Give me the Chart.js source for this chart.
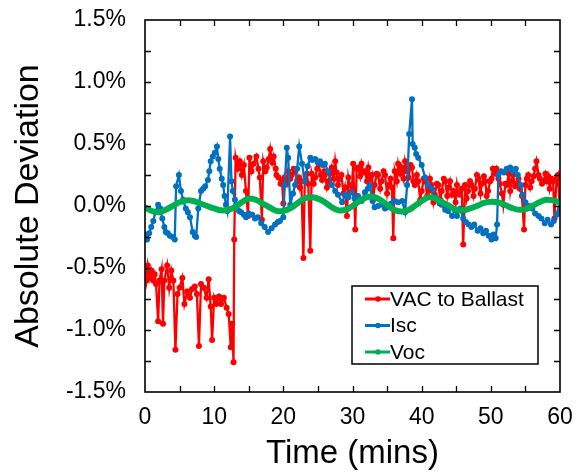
<!DOCTYPE html>
<html>
<head>
<meta charset="utf-8">
<script src="https://cdn.jsdelivr.net/npm/chart.js@4/dist/chart.umd.min.js"></script>
<style>
  html, body { margin: 0; padding: 0; background: #fff; }
  #wrap { width: 585px; height: 474px; position: relative; }
</style>
</head>
<body>
<div id="wrap"><canvas id="c" width="585" height="474"></canvas></div>
<script>
// ---- Data (percent deviation vs time in minutes) ----
const seriesNames = ["VAC to Ballast", "Isc", "Voc"];
const seriesColors = ["#FF0000", "#0070C0", "#00B050"];

const vacTime = [0.0,0.2,0.4,0.7,0.9,1.2,1.4,1.6,1.9,2.1,2.4,2.6,2.8,3.2,3.5,3.8,4.1,4.4,4.7,5.0,5.4,5.7,6.1,6.5,6.8,7.2,7.5,7.8,8.1,8.5,8.9,9.2,9.5,9.7,10.0,10.3,10.7,11.0,11.4,11.8,12.1,12.4,12.6,12.8,12.9,13.1,13.4,13.7,14.0,14.3,14.6,14.9,15.1,15.4,15.7,16.1,16.4,16.6,16.9,17.1,17.4,17.6,17.9,18.1,18.4,18.6,18.9,19.0,19.3,19.6,19.8,20.0,20.2,20.5,20.7,21.0,21.2,21.5,21.7,22.0,22.2,22.4,22.6,22.9,23.1,23.4,23.6,23.9,24.1,24.4,24.6,24.9,25.1,25.4,25.6,25.9,26.0,26.3,26.5,26.8,27.0,27.3,27.5,27.7,27.9,28.2,28.4,28.7,28.9,29.2,29.4,29.6,29.9,30.1,30.4,30.6,30.8,31.1,31.3,31.6,31.8,32.1,32.3,32.6,32.8,33.0,33.2,33.5,33.7,34.0,34.2,34.5,34.7,35.0,35.2,35.5,35.7,35.9,36.1,36.4,36.6,36.9,37.1,37.4,37.6,37.9,38.1,38.4,38.6,38.8,39.0,39.3,39.5,39.8,40.0,40.3,40.5,40.8,41.0,41.2,41.4,41.7,41.9,42.2,42.4,42.7,42.9,43.2,43.4,43.7,43.9,44.1,44.4,44.6,44.9,45.1,45.3,45.5,45.8,46.0,46.3,46.5,46.7,47.0,47.2,47.5,47.7,48.0,48.2,48.5,48.7,49.0,49.2,49.4,49.6,49.9,50.1,50.3,50.6,50.8,51.1,51.3,51.6,51.8,52.1,52.3,52.6,52.8,53.0,53.2,53.5,53.7,54.0,54.2,54.5,54.8,55.0,55.2,55.4,55.7,55.9,56.2,56.4,56.6,56.9,57.1,57.4,57.6,57.9,58.1,58.3,58.5,58.8,59.0,59.2,59.5,59.7,60.0];
const vacValues = [-0.52,-0.60,-0.48,-0.58,-0.52,-0.60,-0.55,-0.63,-0.93,-0.60,-0.51,-0.95,-0.60,-0.48,-0.66,-0.52,-0.60,-1.16,-0.71,-0.66,-0.58,-0.79,-0.69,-0.74,-0.67,-0.65,-0.71,-1.13,-0.63,-0.66,-0.74,-0.59,-0.81,-1.08,-0.74,-0.79,-0.73,-0.79,-0.74,-0.82,-0.87,-1.14,-0.95,-1.26,-0.27,0.39,0.30,0.36,0.25,0.33,0.12,-0.08,0.39,0.28,0.34,0.40,0.30,0.23,-0.11,0.36,0.28,0.31,0.38,0.46,0.35,0.40,0.30,0.25,0.23,0.18,0.21,0.02,0.23,0.18,0.28,0.22,0.25,0.30,0.28,0.20,0.23,0.15,0.20,-0.42,0.20,0.26,0.18,-0.36,0.26,0.18,0.23,0.30,0.34,0.25,0.21,0.28,0.25,0.15,0.20,0.26,0.31,0.22,0.36,0.27,0.17,0.22,0.25,0.10,0.15,-0.08,0.23,0.17,0.12,0.34,-0.19,0.30,0.31,0.24,0.34,0.27,0.28,0.20,0.31,0.22,0.25,0.05,0.17,0.26,0.25,0.14,0.20,0.28,0.25,0.10,0.17,0.22,0.15,-0.26,0.28,0.20,0.34,0.26,0.31,0.22,0.36,0.28,0.23,0.33,0.31,0.20,0.17,0.25,0.20,0.05,0.12,0.22,0.20,0.08,0.12,0.22,0.17,0.03,0.09,0.18,0.17,0.05,0.12,0.22,0.20,0.08,0.15,0.20,0.09,0.12,0.03,0.17,0.10,0.09,0.14,-0.31,0.17,0.06,0.12,0.20,0.17,0.08,0.14,0.25,0.22,0.10,0.18,0.24,0.20,0.08,0.12,0.20,0.22,0.30,0.26,0.30,0.22,0.18,0.10,0.01,0.18,0.17,0.26,0.12,0.20,0.25,0.16,0.18,0.22,0.14,0.08,-0.19,0.17,0.22,0.25,0.15,0.20,0.24,0.30,0.36,0.25,0.22,0.18,0.20,0.26,0.20,0.24,0.14,0.22,0.20,-0.10,0.22,0.25,-0.05];

const iscTime = [0.0,0.3,0.6,0.9,1.2,1.5,1.9,2.2,2.5,2.8,3.0,3.3,3.6,4.0,4.3,4.5,4.9,5.2,5.5,5.9,6.2,6.5,6.9,7.2,7.4,7.7,8.1,8.4,8.7,9.1,9.3,9.5,9.8,10.1,10.4,10.6,10.8,11.1,11.3,11.5,11.7,11.9,12.3,12.5,12.7,13.0,13.2,13.6,13.9,14.3,14.6,15.0,15.5,15.9,16.3,16.8,17.3,17.8,18.3,18.8,19.2,19.5,20.0,20.2,20.5,20.7,21.0,21.4,21.7,22.0,22.3,22.7,23.1,23.5,23.9,24.2,24.6,25.0,25.3,25.7,26.0,26.5,27.0,27.5,27.9,28.5,28.9,29.4,29.9,30.3,30.8,31.3,31.8,32.2,32.5,32.9,33.2,33.7,34.3,34.7,35.1,35.6,36.1,36.6,37.2,37.6,37.9,38.2,38.6,38.7,39.0,39.2,39.5,40.0,40.5,40.9,41.5,41.9,42.2,42.6,42.9,43.4,43.8,44.4,44.8,45.1,45.6,46.0,46.4,46.8,47.2,47.6,48.1,48.5,48.9,49.3,49.7,50.1,50.4,50.7,50.9,51.1,51.5,51.9,52.3,52.8,53.2,53.6,53.9,54.3,54.6,55.0,55.5,56.0,56.4,56.9,57.3,57.8,58.2,58.7,59.1,59.5,60.0];
const iscValues = [-0.23,-0.27,-0.22,-0.17,-0.12,-0.05,0.01,-0.02,-0.10,-0.17,-0.21,-0.22,-0.24,-0.25,-0.27,0.16,0.25,0.12,0.05,-0.02,-0.05,-0.09,-0.21,-0.24,-0.25,-0.02,0.12,0.14,0.16,0.21,0.28,0.36,0.40,0.43,0.48,0.38,0.30,0.22,0.17,0.08,0.01,-0.04,0.56,0.20,0.12,0.05,0.01,-0.04,-0.05,-0.07,-0.09,-0.06,-0.07,-0.10,-0.09,-0.14,-0.17,-0.21,-0.18,-0.15,-0.13,-0.12,-0.09,0.17,0.47,0.39,0.01,0.10,0.17,0.30,0.48,0.34,0.20,0.32,0.39,0.37,0.38,0.35,0.36,0.33,0.34,0.28,0.17,0.12,0.09,0.03,0.09,0.07,0.11,0.06,0.08,0.04,0.11,0.14,0.17,0.04,-0.01,0.00,0.01,-0.02,-0.01,0.02,0.04,0.03,0.04,-0.05,0.17,0.58,0.86,0.50,0.47,0.42,0.39,0.33,0.23,0.17,0.14,0.07,0.06,0.02,0.01,-0.03,-0.04,-0.08,-0.03,-0.08,-0.02,-0.10,-0.13,-0.15,-0.17,-0.15,-0.20,-0.18,-0.22,-0.20,-0.24,-0.27,-0.23,-0.26,-0.15,0.25,0.28,0.27,0.30,0.31,0.28,0.30,0.25,0.17,0.09,0.03,0.00,-0.02,-0.06,-0.08,-0.10,-0.14,-0.11,-0.15,-0.12,-0.07,0.03];

const vocTime = [0,1,2,3,4,5,6,7,8,9,10,11,12,13,14,15,16,17,18,19,20,21,22,23,24,25,26,27,28,29,30,31,32,33,34,35,36,37,38,39,40,41,42,43,44,45,46,47,48,49,50,51,52,53,54,55,56,57,58,59,60];
const vocValues = [-0.01,-0.04,-0.05,-0.03,0.00,0.03,0.045,0.04,0.02,0.00,-0.02,-0.035,-0.03,-0.01,0.03,0.06,0.05,0.02,-0.01,-0.04,-0.04,-0.02,0.02,0.06,0.07,0.06,0.03,-0.01,-0.035,-0.03,0.00,0.04,0.07,0.075,0.05,0.01,-0.03,-0.045,-0.035,0.00,0.04,0.07,0.06,0.03,0.00,-0.03,-0.035,-0.02,0.00,0.025,0.035,0.03,0.01,-0.015,-0.03,-0.025,0.00,0.03,0.05,0.045,0.03];

const xTickLabels = [0, 10, 20, 30, 40, 50, 60];
const xMinorTicks = [5, 15, 25, 35, 45, 55];
const yTickLabels = [-1.5, -1.0, -0.5, 0.0, 0.5, 1.0, 1.5];
const yMinorTicks = [-1.25, -0.75, -0.25, 0.25, 0.75, 1.25];

const FONT = '"Liberation Sans", Arial, sans-serif';

function toPoints(t, v) { return t.map((x, i) => ({ x: x, y: v[i] })); }

const frame = {
  id: 'frame',
  afterDatasetsDraw(chart) {
    const { ctx, chartArea: a, scales } = chart;
    ctx.save();
    ctx.strokeStyle = '#000';
    ctx.lineWidth = 1.3;
    const tl = 6;
    ctx.beginPath();
    yTickLabels.concat(yMinorTicks).forEach(v => {
      const p = Math.round(scales.y.getPixelForValue(v)) + 0.5;
      if (p <= a.top + 1 || p >= a.bottom - 1) return;
      ctx.moveTo(a.left, p); ctx.lineTo(a.left + tl, p);
      ctx.moveTo(a.right, p); ctx.lineTo(a.right - tl, p);
    });
    xTickLabels.concat(xMinorTicks).forEach(v => {
      const p = Math.round(scales.x.getPixelForValue(v)) + 0.5;
      if (p <= a.left + 1 || p >= a.right - 1) return;
      ctx.moveTo(p, a.bottom); ctx.lineTo(p, a.bottom - tl);
      ctx.moveTo(p, a.top); ctx.lineTo(p, a.top + tl);
    });
    ctx.stroke();
    ctx.lineWidth = 1.6;
    ctx.strokeRect(a.left, a.top, a.right - a.left, a.bottom - a.top);
    ctx.restore();
  },
  afterDraw(chart) {
    const { ctx, chartArea: a } = chart;
    const bw = 186, bh = 78;
    const bx = a.right - 22 - bw, by = a.bottom - 28 - bh;
    ctx.save();
    ctx.fillStyle = '#fff';
    ctx.fillRect(bx, by, bw, bh);
    ctx.strokeStyle = '#000';
    ctx.lineWidth = 1.5;
    ctx.strokeRect(bx, by, bw, bh);
    ctx.font = '21px ' + FONT;
    ctx.textBaseline = 'middle';
    ctx.textAlign = 'left';
    seriesNames.forEach((name, i) => {
      const cy = by + 13 + i * 26.5;
      ctx.strokeStyle = seriesColors[i];
      ctx.fillStyle = seriesColors[i];
      ctx.lineWidth = 3;
      ctx.beginPath(); ctx.moveTo(bx + 13, cy); ctx.lineTo(bx + 38, cy); ctx.stroke();
      ctx.beginPath(); ctx.arc(bx + 26, cy, 2.8, 0, Math.PI * 2); ctx.fill();
      ctx.fillStyle = '#000';
      ctx.fillText(name, bx + 38, cy + 1);
    });
    ctx.restore();
  }
};

new Chart(document.getElementById('c'), {
  type: 'line',
  data: {
    datasets: [
      { label: seriesNames[0], data: toPoints(vacTime, vacValues), borderColor: seriesColors[0], backgroundColor: seriesColors[0],
        borderWidth: 2.3, pointRadius: 3, pointBorderWidth: 0, tension: 0, order: 3 },
      { label: seriesNames[1], data: toPoints(iscTime, iscValues), borderColor: seriesColors[1], backgroundColor: seriesColors[1],
        borderWidth: 2.3, pointRadius: 3, pointBorderWidth: 0, tension: 0, order: 2 },
      { label: seriesNames[2], data: toPoints(vocTime, vocValues), borderColor: seriesColors[2], backgroundColor: seriesColors[2],
        borderWidth: 6, pointRadius: 0, tension: 0.4, order: 1 }
    ]
  },
  options: {
    responsive: false,
    animation: false,
    events: [],
    layout: { padding: { top: 20, right: 25, left: 0, bottom: 0 } },
    plugins: { legend: { display: false }, tooltip: { enabled: false } },
    scales: {
      x: {
        type: 'linear', min: 0, max: 60,
        afterBuildTicks: s => { s.ticks = xTickLabels.map(v => ({ value: v })); },
        afterFit: s => { s.height = 82; s.paddingLeft = 0; s.paddingRight = 0; },
        grid: { display: false, drawTicks: false },
        border: { display: false },
        ticks: { color: '#000', font: { family: FONT, size: 23 }, padding: 12, maxRotation: 0 },
        title: { display: true, text: 'Time (mins)', color: '#000', font: { family: FONT, size: 33 }, padding: { top: 0, bottom: 0 } }
      },
      y: {
        type: 'linear', min: -1.5, max: 1.5,
        afterBuildTicks: s => { s.ticks = yTickLabels.map(v => ({ value: v })); },
        afterFit: s => { s.width = 145; s.paddingTop = 0; s.paddingBottom = 0; },
        grid: { display: false, drawTicks: false },
        border: { display: false },
        ticks: { color: '#000', font: { family: FONT, size: 23 }, padding: 19, callback: v => v.toFixed(1) + '%' },
        title: { display: true, text: 'Absolute Deviation', color: '#000', font: { family: FONT, size: 34 }, padding: { top: 8, bottom: 0 } }
      }
    }
  },
  plugins: [frame]
});
</script>
</body>
</html>
